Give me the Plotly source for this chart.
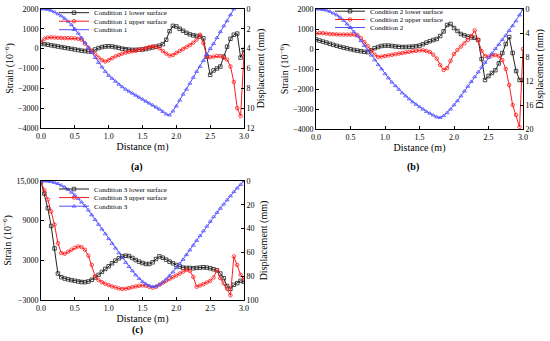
import plotly.graph_objects as go

distance = [0.0, 0.05, 0.1, 0.15, 0.2, 0.25, 0.3, 0.35, 0.4, 0.45, 0.5, 0.55, 0.6, 0.65, 0.7, 0.75,
            0.8, 0.85, 0.9, 0.95, 1.0, 1.05, 1.1, 1.15, 1.2, 1.25, 1.3, 1.35, 1.4, 1.45, 1.5, 1.55,
            1.6, 1.65, 1.7, 1.75, 1.8, 1.85, 1.9, 1.95, 2.0, 2.05, 2.1, 2.15, 2.2, 2.25, 2.3, 2.35,
            2.4, 2.45, 2.5, 2.55, 2.6, 2.65, 2.7, 2.75, 2.8, 2.85, 2.9, 2.95, 3.0]

# ---- Condition 1 ----
c1_lower = [260, 230, 200, 170, 140, 110, 80, 50, 20, -10, -40, -70, -100, -120, -140, -150,
            -40, 30, 80, 110, 120, 110, 80, 40, 0, -30, -50, -60, -60, -50, -40, -20,
            20, 60, 100, 150, 230, 450, 880, 1150, 1120, 1000, 900, 800, 720, 670, 640, 610,
            520, -400, -1320, -1100, -1000, -900, -400, 100, 500, 700, 760, -450, -60]
c1_upper = [350, 500, 560, 570, 560, 550, 540, 530, 530, 530, 520, 500, 450, 250, 50, -100,
            -280, -450, -580, -650, -580, -480, -390, -320, -250, -200, -160, -130, -100, -60, -20, 30,
            80, 120, 100, 20, -120, -250, -350, -320, -220, -120, -20, 80, 180, 300, 450, 700,
            280, -400, -430, -400, -370, -370, -450, -550, -900, -1680, -3000, -3400, -250]
c1_disp = [0.0, 0.0, 0.05, 0.15, 0.3, 0.5, 0.7, 0.95, 1.25, 1.6, 2.0, 2.45, 2.9, 3.4, 3.9, 4.4,
           4.9, 5.4, 5.85, 6.3, 6.7, 7.0, 7.3, 7.6, 7.85, 8.1, 8.3, 8.5, 8.7, 8.9, 9.1, 9.3,
           9.5, 9.7, 9.9, 10.1, 10.35, 10.6, 10.7, 10.3, 9.8, 9.2, 8.6, 8.1, 7.5, 6.9, 6.3, 5.8,
           5.2, 4.6, 4.0, 3.5, 2.9, 2.3, 1.7, 1.2, 0.6, 0.0]

# ---- Condition 2 ----
c2_lower = [480, 420, 370, 320, 260, 210, 160, 110, 70, 30, -10, -50, -80, -110, -140, -160,
            -60, 40, 100, 150, 170, 170, 150, 130, 110, 100, 100, 110, 120, 140, 170, 240,
            320, 390, 450, 500, 650, 880, 1200, 1250, 1050, 900, 750, 680, 620, 580, 560, 450,
            -500, -1550, -1350, -1200, -1060, -720, -200, 250, 600, -200, -1100, -1550, -1550]
c2_upper = [780, 800, 790, 770, 750, 740, 730, 720, 720, 720, 720, 720, 700, 550, 350, 150,
            -80, -280, -400, -380, -350, -320, -290, -260, -230, -200, -170, -140, -110, -90, -70, -70,
            -100, -150, -280, -480, -800, -1050, -950, -600, -250, -50, 120, 280, 450, 650, 930, 450,
            -100, -350, -380, -330, -300, -350, -550, -1000, -1800, -2800, -3300, -3900, 0]
c2_disp = [0.0, 0.02, 0.1, 0.2, 0.4, 0.7, 1.0, 1.4, 1.9, 2.5, 3.1, 3.8, 4.5, 5.3, 6.1, 6.9,
           7.7, 8.5, 9.3, 10.0, 10.8, 11.5, 12.2, 12.8, 13.4, 14.0, 14.5, 15.0, 15.5, 15.9, 16.3, 16.7,
           17.1, 17.4, 17.7, 18.0, 18.1, 17.8, 17.3, 16.7, 16.0, 15.3, 14.5, 13.7, 12.9, 12.1, 11.3, 10.5,
           9.7, 8.9, 8.1, 7.4, 6.6, 5.9, 5.1, 4.4, 3.6, 2.8, 2.0, 1.0, 0.0]

# ---- Condition 3 ----
c3_lower = [14900, 13100, 10900, 8200, 4800, 1000, 450, 250, 120, 0, -100, -200, -280, -300, -200, 50,
            400, 800, 1250, 1700, 2100, 2550, 2950, 3300, 3600, 3700, 3650, 3350, 3050, 2800, 2600, 2450,
            2450, 2700, 3200, 3600, 3400, 3100, 2800, 2550, 2300, 2050, 1900, 1850, 1850, 1800, 1850, 1900,
            1950, 1900, 1800, 1650, 1500, 1000, 300, -900, -1300, -700, -450, -100, -250]
c3_upper = [14900, 13600, 12200, 10400, 8400, 5600, 4100, 4000, 4300, 4600, 4900, 5100, 5000, 4600, 3700, 2300,
            600, 0, -300, -550, -750, -950, -1100, -1250, -1330, -1300, -1200, -1050, -950, -850, -800, -850,
            -1000, -1150, -1000, -700, -400, -100, 200, 450, 700, 1000, 1300, 1550, 1400, 500, -1000, -800,
            -600, -350, -100, 400, 1500, 300, -500, -1300, -2300, 3600, 2300, 800, 100]
c3_disp = [0.0, 0.0, 0.2, 0.6, 1.3, 2.3, 3.6, 5.2, 7.2, 9.5, 12.0, 14.8, 17.8, 21.0, 24.5, 28.5,
           32.5, 36.5, 40.5, 44.5, 48.5, 52.5, 56.5, 60.5, 64.5, 68.5, 72.0, 75.5, 79.0, 82.0, 84.5, 86.5,
           88.0, 88.8, 88.5, 87.0, 85.0, 82.5, 79.5, 76.5, 73.0, 69.5, 66.0, 62.0, 58.0, 54.0, 50.0, 46.0,
           42.0, 38.0, 34.0, 30.0, 26.5, 23.0, 19.5, 16.0, 12.5, 9.0, 6.0, 3.0, 0.0]

x_ticks = [0.0, 0.5, 1.0, 1.5, 2.0, 2.5, 3.0]
c3_strain_ticks = [-3000, 3000, 9000, 15000]
c3_strain_labels = ["\u22123000", "3000", "9000", "15,000"]

FONT = "Liberation Serif"
BLACK = "#222222"
RED = "#ff1a1a"
BLUE = "#5050ff"

W, H = 550, 341

panels = [
    dict(n="1", lower=c1_lower, upper=c1_upper, disp=c1_disp,
         xd=[41, 244], yd=[9, 128], dmax=12, ddt=2, legx=54, legy=[12.7, 21.2, 29.7],
         cap="(a)", capx=137, capy=167),
    dict(n="2", lower=c2_lower, upper=c2_upper, disp=c2_disp,
         xd=[316, 523], yd=[9, 129], dmax=20, ddt=4, legx=330, legy=[11.2, 19.5, 27.5],
         cap="(b)", capx=413, capy=167),
    dict(n="3", lower=c3_lower, upper=c3_upper, disp=c3_disp,
         xd=[41, 244], yd=[181, 300], dmax=100, ddt=20, legx=54, legy=[189.0, 197.6, 206.2],
         cap="(c)", capx=137, capy=330),
]

fig = go.Figure()
layout = dict(width=W, height=H, margin=dict(l=0, r=0, t=0, b=0, autoexpand=False),
              paper_bgcolor="white", plot_bgcolor="white",
              font=dict(family=FONT, color="black"), showlegend=True)
annotations = []

for i, p in enumerate(panels):
    xn = "x" if i == 0 else f"x{i+1}"
    yl = "y" if i == 0 else f"y{2*i+1}"
    yr = f"y{2*i+2}"
    xkey = "xaxis" if i == 0 else f"xaxis{i+1}"
    ylkey = "yaxis" if i == 0 else f"yaxis{2*i+1}"
    yrkey = f"yaxis{2*i+2}"
    xdom = [p["xd"][0] / W, p["xd"][1] / W]
    ydom = [1 - p["yd"][1] / H, 1 - p["yd"][0] / H]

    layout[xkey] = dict(domain=xdom, anchor=yl, range=[0, 3], tickvals=x_ticks,
                        ticktext=[f"{v:.1f}" for v in x_ticks], automargin=False,
                        ticks="inside", ticklen=3, tickcolor="black", showline=True,
                        linecolor="black", linewidth=1, mirror=True, showgrid=False,
                        zeroline=False, tickfont=dict(family=FONT, size=8, color="black"),
                        title=dict(text="Distance (m)", font=dict(family=FONT, size=10),
                                   standoff=0))
    if i < 2:
        left_ticks = dict(range=[-4000, 2000], tickmode="linear", tick0=-4000, dtick=1000)
    else:
        left_ticks = dict(range=[-3000, 15000], tickvals=c3_strain_ticks,
                          ticktext=c3_strain_labels)
    layout[ylkey] = dict(domain=ydom, anchor=xn, ticks="inside", ticklen=3, automargin=False,
                         tickcolor="black", showline=True, linecolor="black", linewidth=1,
                         showgrid=False, zeroline=False,
                         tickfont=dict(family=FONT, size=8, color="black"),
                         title=dict(text="Strain (10<sup>\u22126</sup>)",
                                    font=dict(family=FONT, size=10), standoff=2),
                         **left_ticks)
    layout[yrkey] = dict(overlaying=yl, anchor=xn, side="right", automargin=False,
                         range=[p["dmax"], 0], tickmode="linear", tick0=0, dtick=p["ddt"],
                         ticks="inside", ticklen=3, tickcolor="black", showline=True,
                         linecolor="black", linewidth=1, showgrid=False, zeroline=False,
                         tickfont=dict(family=FONT, size=8, color="black"),
                         title=dict(text="Displacement (mm)", font=dict(family=FONT, size=10),
                                    standoff=2))

    series = [
        (f"Condition {p['n']} lower surface", p["lower"], yl, BLACK, "square-open"),
        (f"Condition {p['n']} upper surface", p["upper"], yl, RED, "circle-open"),
        (f"Condition {p['n']}", p["disp"], yr, BLUE, "triangle-up-open"),
    ]
    for j, (name, vals, yax, col, sym) in enumerate(series):
        lkey = "legend" if (i == 0 and j == 0) else f"legend{3*i+j+1}"
        fig.add_trace(go.Scatter(
            x=distance[:len(vals)], y=vals, name=name, mode="lines+markers",
            xaxis=xn, yaxis=yax, legend=lkey,
            line=dict(color=col, width=1),
            marker=dict(symbol=sym, size=3.5, color=col, line=dict(width=0.8, color=col)),
        ))
        layout[lkey] = dict(x=p["legx"] / W, y=1 - p["legy"][j] / H, xanchor="left",
                            yanchor="middle", bgcolor="rgba(0,0,0,0)", borderwidth=0,
                            itemwidth=30, font=dict(family=FONT, size=7, color="black"))

    annotations.append(dict(text=f"<b>{p['cap']}</b>", x=p["capx"] / W, y=1 - p["capy"] / H,
                            xref="paper", yref="paper", showarrow=False,
                            font=dict(family=FONT, size=10, color="black"),
                            xanchor="center", yanchor="middle"))

layout["annotations"] = annotations
fig.update_layout(**layout)
fig.write_html("out.html", config={"displayModeBar": False},
               post_script="document.body.style.margin='0';document.body.style.padding='0';")
